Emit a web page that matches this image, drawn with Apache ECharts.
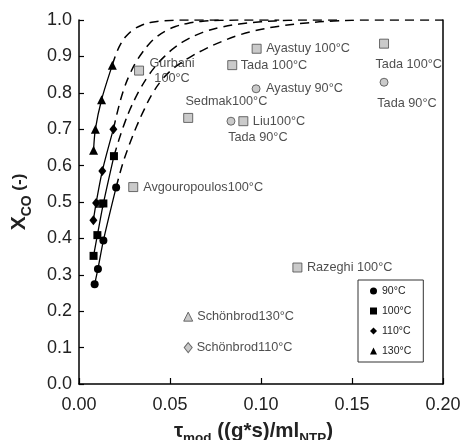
<!DOCTYPE html>
<html><head><meta charset="utf-8">
<script src="https://cdn.jsdelivr.net/npm/echarts@6/dist/echarts.min.js"></script>
<style>html,body{margin:0;padding:0;background:#fff}#c{width:462px;height:440px}</style>
</head><body><div id="c"></div>
<script>
// ---- Experimental series (tau_mod, X_CO) ----
const t90  = [0.0086, 0.0104, 0.0134, 0.0204];
const x90  = [0.274, 0.316, 0.394, 0.540];
const t100 = [0.0080, 0.0101, 0.0134, 0.0192];
const x100 = [0.352, 0.409, 0.496, 0.626];
const t100extra = [0.0113];
const x100extra = [0.495];
const t110 = [0.0079, 0.0094, 0.0128, 0.0189];
const x110 = [0.450, 0.497, 0.585, 0.700];
const t130 = [0.0080, 0.0090, 0.0124, 0.0183];
const x130 = [0.642, 0.700, 0.781, 0.876];

// ---- Model curves (dashed) ----
const m130t = [0.0183, 0.0205, 0.023, 0.026, 0.030, 0.035, 0.040, 0.047, 0.060, 0.080];
const m130x = [0.876, 0.908, 0.935, 0.956, 0.974, 0.987, 0.994, 0.998, 1.000, 1.000];
const m110t = [0.0189, 0.022, 0.025, 0.028, 0.031, 0.035, 0.039, 0.043, 0.048, 0.053, 0.059, 0.067, 0.078, 0.095, 0.110];
const m110x = [0.700, 0.765, 0.815, 0.852, 0.882, 0.912, 0.937, 0.955, 0.971, 0.982, 0.990, 0.996, 0.999, 1.000, 1.000];
const m100t = [0.0192, 0.022, 0.025, 0.028, 0.031, 0.034, 0.038, 0.042, 0.047, 0.053, 0.060, 0.068, 0.077, 0.088, 0.100, 0.115, 0.130, 0.145];
const m100x = [0.626, 0.672, 0.716, 0.754, 0.786, 0.814, 0.846, 0.873, 0.900, 0.926, 0.948, 0.966, 0.979, 0.989, 0.995, 0.999, 1.000, 1.000];
const m90t  = [0.0204, 0.024, 0.028, 0.032, 0.036, 0.040, 0.045, 0.050, 0.056, 0.062, 0.070, 0.078, 0.087, 0.097, 0.110, 0.125, 0.140, 0.160, 0.200];
const m90x  = [0.540, 0.605, 0.662, 0.712, 0.756, 0.795, 0.832, 0.859, 0.882, 0.901, 0.922, 0.940, 0.957, 0.971, 0.983, 0.992, 0.997, 1.000, 1.000];

// ---- Literature points (grey) ----
const litSqNames = ['Gurbani\n100°C', 'Avgouropoulos100°C', 'Sedmak100°C', 'Tada 100°C', 'Ayastuy 100°C', 'Liu100°C', 'Tada 100°C', 'Razeghi 100°C'];
const litSqT = [0.0330, 0.0298, 0.0600, 0.0842, 0.0976, 0.0903, 0.1676, 0.1200];
const litSqX = [0.861, 0.541, 0.731, 0.876, 0.921, 0.722, 0.935, 0.320];
const litCiNames = ['Ayastuy 90°C', 'Tada 90°C', 'Tada 90°C'];
const litCiT = [0.0973, 0.0835, 0.1676];
const litCiX = [0.811, 0.722, 0.829];
const litTriNames = ['Schönbrod130°C'];
const litTriT = [0.0600];
const litTriX = [0.185];
const litDiaNames = ['Schönbrod110°C'];
const litDiaT = [0.0600];
const litDiaX = [0.100];

const legendNames = ['90°C', '100°C', '110°C', '130°C'];

// ---- Layout / styling (not data) ----
const FONT = 'Liberation Sans, Arial, sans-serif';
const sqLabelLayout = [
  {align: 'center', offset: [23, 0.5], lineHeight: 15},
  {distance: 5},
  {distance: 0, offset: [-7.8, -16.7]},
  {distance: 3.5},
  {distance: 4.5},
  {distance: 4.5},
  {distance: 0, offset: [-13.5, 21.3]},
  {distance: 4.5}
];
const ciLabelLayout = [
  {distance: 5.5},
  {distance: 0, offset: [-7.3, 16.7]},
  {distance: 0, offset: [-11.3, 21]}
];
const otherLabelLayout = [{distance: 4}];

function zip(t, x) { return t.map((v, i) => [v, x[i]]); }
function labelled(t, x, names, layouts) {
  return t.map((v, i) => ({
    value: [v, x[i]],
    label: Object.assign({show: true, position: 'right', formatter: names[i],
      fontSize: 12.7, fontFamily: FONT, color: '#222'}, layouts[i] || {})
  }));
}

const grey = {color: '#bdbdbd', borderColor: '#4a4a4a', borderWidth: 1};
const blk = {color: '#000'};

function expSeries(name, t, x, symbol, size) {
  return {type: 'line', name: name, data: zip(t, x), smooth: 0.3, symbol: symbol, symbolSize: size,
    showSymbol: true, lineStyle: {color: '#000', width: 1.3}, itemStyle: blk, z: 5, animation: false};
}
function modelSeries(name, t, x) {
  return {type: 'line', name: name, data: zip(t, x), smooth: 0.4, symbol: 'none',
    lineStyle: {color: '#000', width: 1.5, type: [9, 6]}, z: 3, animation: false};
}
function litSeries(name, t, x, names, layouts, symbol, size) {
  return {type: 'scatter', name: name, data: labelled(t, x, names, layouts), symbol: symbol, symbolSize: size,
    itemStyle: grey, z: 4, animation: false};
}

const chart = echarts.init(document.getElementById('c'), null, {renderer: 'canvas'});
chart.setOption({
  backgroundColor: '#fff',
  animation: false,
  grid: {left: 79, right: 19, top: 20, bottom: 56, containLabel: false, outerBoundsMode: 'none'},
  xAxis: {
    type: 'value', min: 0, max: 0.2, interval: 0.05,
    axisLine: {show: true, lineStyle: {color: '#000', width: 1.5}},
    axisTick: {show: true, inside: true, length: 6, lineStyle: {color: '#000', width: 1.2}},
    axisLabel: {formatter: v => v.toFixed(2), fontSize: 18, color: '#222', fontFamily: FONT, margin: 12},
    splitLine: {show: false},
    name: '{t|τ}{s|mod}{p| ((g*s)/ml}{s|NTP}{p|)}',
    nameLocation: 'middle', nameGap: 36,
    nameTextStyle: {padding: [0, 15, 0, 0], rich: {
      t: {fontSize: 20.5, fontWeight: 'bold', fontFamily: FONT, color: '#222', lineHeight: 22},
      p: {fontSize: 20.5, fontWeight: 'bold', fontFamily: FONT, color: '#222', lineHeight: 22},
      s: {fontSize: 13.5, fontWeight: 'bold', fontFamily: FONT, color: '#222', verticalAlign: 'bottom', lineHeight: 12, padding: [0, 0, -3, 0]}
    }}
  },
  yAxis: [{
    type: 'value', min: 0, max: 1, interval: 0.1,
    axisLine: {show: true, lineStyle: {color: '#000', width: 1.5}},
    axisTick: {show: true, inside: true, length: 5, lineStyle: {color: '#000', width: 1.2}},
    axisLabel: {formatter: v => v.toFixed(1), fontSize: 18, color: '#222', fontFamily: FONT, margin: 7},
    splitLine: {show: false},
    name: '{x|X}{s|CO}{p| (-)}',
    nameLocation: 'middle', nameGap: 48, nameRotate: 90,
    nameTextStyle: {rich: {
      x: {fontSize: 21, fontWeight: 'bold', fontFamily: FONT, color: '#222', lineHeight: 24},
      p: {fontSize: 17, fontWeight: 'bold', fontFamily: FONT, color: '#222', lineHeight: 24},
      s: {fontSize: 14, fontWeight: 'bold', fontFamily: FONT, color: '#222', verticalAlign: 'bottom', lineHeight: 14, padding: [0, 0, -3, 0]}
    }}
  }, {
    type: 'value', min: 0, max: 1, position: 'right',
    axisLine: {show: true, lineStyle: {color: '#000', width: 1.5}},
    axisTick: {show: false}, axisLabel: {show: false}, splitLine: {show: false}
  }],
  legend: {
    orient: 'vertical', left: 358, top: 280, padding: [5, 12, 5, 12], itemGap: 8,
    itemWidth: 7, itemHeight: 7, selectedMode: false,
    backgroundColor: '#fff', borderColor: '#333', borderWidth: 1,
    textStyle: {fontSize: 10.5, color: '#222', fontFamily: FONT, lineHeight: 12},
    data: [
      {name: legendNames[0], icon: 'circle'},
      {name: legendNames[1], icon: 'rect'},
      {name: legendNames[2], icon: 'diamond'},
      {name: legendNames[3], icon: 'triangle'}
    ]
  },
  series: [
    modelSeries('m90', m90t, m90x),
    modelSeries('m100', m100t, m100x),
    modelSeries('m110', m110t, m110x),
    modelSeries('m130', m130t, m130x),
    expSeries(legendNames[0], t90, x90, 'circle', 8),
    expSeries(legendNames[1], t100, x100, 'rect', 8),
    {type: 'scatter', name: legendNames[1], data: zip(t100extra, x100extra), symbol: 'rect', symbolSize: 8, itemStyle: blk, z: 5},
    expSeries(legendNames[2], t110, x110, 'diamond', [8, 10]),
    expSeries(legendNames[3], t130, x130, 'triangle', 9),
    litSeries('litSq', litSqT, litSqX, litSqNames, sqLabelLayout, 'rect', 9),
    litSeries('litCi', litCiT, litCiX, litCiNames, ciLabelLayout, 'circle', 8),
    litSeries('litTri', litTriT, litTriX, litTriNames, otherLabelLayout, 'triangle', 9),
    litSeries('litDia', litDiaT, litDiaX, litDiaNames, otherLabelLayout, 'diamond', [8, 10])
  ]
});
</script>
</body></html>
